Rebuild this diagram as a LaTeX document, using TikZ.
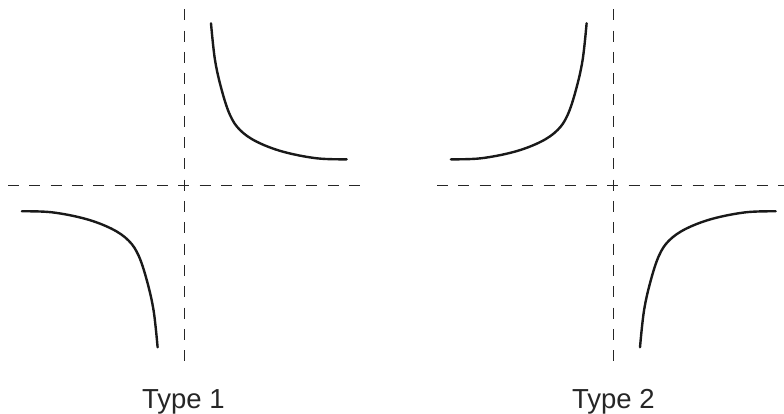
\documentclass[tikz,border=0pt]{standalone}
\usepackage{fontspec}
\setmainfont{Liberation Sans}
\begin{document}
\begin{tikzpicture}[x=1pt,y=-1pt,
  asym/.style={line width=1.3pt,dash pattern=on 11pt off 10.3pt,color=black!85},
  curve/.style={line width=2.4pt,color=black!90,line cap=round},
  lbl/.style={font=\fontsize{27.5}{30}\selectfont,anchor=base,color=black!85,inner sep=0pt}]
\useasboundingbox (0,0) rectangle (784,414);
% Type 1
\coordinate (v1t) at (184.3,9.3);
\coordinate (v1b) at (184.3,362);
\coordinate (h1l) at (8,185.3);
\coordinate (h1r) at (362,185.3);
\draw[asym] (v1t) -- (v1b);
\draw[asym] (h1l) -- (h1r);
\begin{scope}[shift={(184.3,185.3)}]
\draw[curve] plot[smooth,tension=0.6] coordinates {(26.7,-162) (30.7,-125.3) (37.4,-95.3) (45.7,-70.3) (55.7,-55.3) (72.4,-43.6) (98.7,-33.6) (132.4,-27) (162.4,-26)};
\draw[curve,rotate=180] plot[smooth,tension=0.6] coordinates {(26.7,-162) (30.7,-125.3) (37.4,-95.3) (45.7,-70.3) (55.7,-55.3) (72.4,-43.6) (98.7,-33.6) (132.4,-27) (162.4,-26)};
\end{scope}
\node[lbl] (t1) at (183.3,408) {Type 1};
% Type 2
\coordinate (v2t) at (613.3,9.3);
\coordinate (v2b) at (613.3,362);
\coordinate (h2l) at (437,185.3);
\coordinate (h2r) at (784,185.3);
\draw[asym] (v2t) -- (v2b);
\draw[asym] (h2l) -- (h2r);
\begin{scope}[shift={(613.3,185.3)},xscale=-1]
\draw[curve] plot[smooth,tension=0.6] coordinates {(26.7,-162) (30.7,-125.3) (37.4,-95.3) (45.7,-70.3) (55.7,-55.3) (72.4,-43.6) (98.7,-33.6) (132.4,-27) (162.4,-26)};
\draw[curve,rotate=180] plot[smooth,tension=0.6] coordinates {(26.7,-162) (30.7,-125.3) (37.4,-95.3) (45.7,-70.3) (55.7,-55.3) (72.4,-43.6) (98.7,-33.6) (132.4,-27) (162.4,-26)};
\end{scope}
\node[lbl] (t2) at (613.3,408) {Type 2};
\end{tikzpicture}
\end{document}
